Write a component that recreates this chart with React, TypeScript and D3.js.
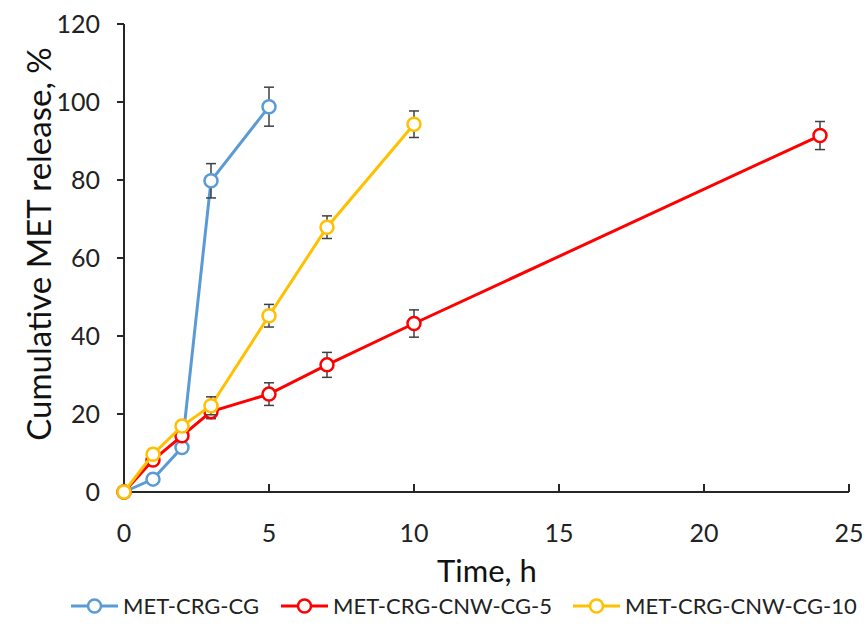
import React from "react";
import * as d3 from "d3";

// Release profiles: time (h), cumulative release (%), standard deviation (%)
const timesCG = [0, 1, 2, 3, 5];
const releaseCG = [0, 3.3, 11.4, 79.8, 98.8];
const errorCG = [0, 0.8, 1.0, 4.4, 5.0];

const timesCNW5 = [0, 1, 2, 3, 5, 7, 10, 24];
const releaseCNW5 = [0, 8.2, 14.4, 20.6, 25.1, 32.6, 43.2, 91.4];
const errorCNW5 = [0, 1.0, 1.2, 1.8, 2.9, 3.2, 3.5, 3.6];

const timesCNW10 = [0, 1, 2, 3, 5, 7, 10];
const releaseCNW10 = [0, 9.7, 16.9, 22.1, 45.2, 67.9, 94.3];
const errorCNW10 = [0, 1.3, 1.3, 2.3, 2.9, 2.9, 3.4];

const seriesNames = ["MET-CRG-CG", "MET-CRG-CNW-CG-5", "MET-CRG-CNW-CG-10"];
const seriesColors = ["#5B9BD5", "#FF0000", "#FFC000"];

const xTicks = [0, 5, 10, 15, 20, 25];
const yTicks = [0, 20, 40, 60, 80, 100, 120];

const W = 866;
const H = 633;
const FONT = "Lato, 'Open Sans', sans-serif";

export default function App() {
  const x = d3.scaleLinear().domain([0, 25]).range([124, 849]);
  const y = d3.scaleLinear().domain([0, 120]).range([492, 24]);

  const series = [
    { t: timesCG, v: releaseCG, e: errorCG },
    { t: timesCNW5, v: releaseCNW5, e: errorCNW5 },
    { t: timesCNW10, v: releaseCNW10, e: errorCNW10 },
  ].map((s, i) => ({
    name: seriesNames[i],
    color: seriesColors[i],
    pts: s.t.map((t, j) => ({ t, v: s.v[j], e: s.e[j] })),
  }));

  const line = d3
    .line<{ t: number; v: number }>()
    .x((d) => x(d.t))
    .y((d) => y(d.v));

  const axisColor = "#262626";
  const errColor = "#404040";

  const legendItems = [
    { lineX: 71, textX: 123 },
    { lineX: 281, textX: 333 },
    { lineX: 573, textX: 625 },
  ];

  return (
    <svg width={W} height={H} style={{ display: "block", position: "absolute", left: 0, top: 0 }}>
      <rect width={W} height={H} fill="#fff" />

      {/* axes */}
      <line x1={x(0)} x2={x(0)} y1={y(120)} y2={y(0)} stroke={axisColor} strokeWidth={2} />
      <line x1={x(0) - 6} x2={x(25)} y1={y(0)} y2={y(0)} stroke={axisColor} strokeWidth={2} />
      {yTicks.map((t) => (
        <g key={"y" + t}>
          <line x1={x(0) - 7} x2={x(0)} y1={y(t)} y2={y(t)} stroke={axisColor} strokeWidth={2} />
          <text
            x={100}
            y={y(t)}
            dy="0.36em"
            textAnchor="end"
            fontFamily={FONT}
            fontSize={25}
            fill="#222"
          >
            {t}
          </text>
        </g>
      ))}
      {xTicks.map((t) => (
        <g key={"x" + t}>
          {t > 0 && (
            <line x1={x(t)} x2={x(t)} y1={y(0)} y2={y(0) - 8} stroke={axisColor} strokeWidth={2} />
          )}
          <text
            x={x(t)}
            y={542}
            textAnchor="middle"
            fontFamily={FONT}
            fontSize={25}
            fill="#222"
          >
            {t}
          </text>
        </g>
      ))}

      {/* axis titles */}
      <text x={487} y={582} textAnchor="middle" fontFamily={FONT} fontSize={31} fill="#111">
        Time, h
      </text>
      <text
        transform={`translate(51, ${244}) rotate(-90)`}
        textAnchor="middle"
        fontFamily={FONT}
        fontSize={33}
        fill="#111"
      >
        Cumulative MET release, %
      </text>

      {/* series */}
      {series.map((s) => (
        <g key={s.name}>
          <path d={line(s.pts) ?? ""} fill="none" stroke={s.color} strokeWidth={3} />
          {s.pts
            .filter((p) => p.e > 0)
            .map((p, j) => (
              <g key={j} stroke={errColor} strokeWidth={1.5}>
                <line x1={x(p.t)} x2={x(p.t)} y1={y(p.v + p.e)} y2={y(p.v - p.e)} />
                <line x1={x(p.t) - 5} x2={x(p.t) + 5} y1={y(p.v + p.e)} y2={y(p.v + p.e)} />
                <line x1={x(p.t) - 5} x2={x(p.t) + 5} y1={y(p.v - p.e)} y2={y(p.v - p.e)} />
              </g>
            ))}
          {s.pts.map((p, j) => (
            <circle
              key={j}
              cx={x(p.t)}
              cy={y(p.v)}
              r={6.5}
              fill="#fff"
              stroke={s.color}
              strokeWidth={2.5}
            />
          ))}
        </g>
      ))}

      {/* legend */}
      {series.map((s, i) => (
        <g key={"leg" + i}>
          <line
            x1={legendItems[i].lineX}
            x2={legendItems[i].lineX + 47}
            y1={606}
            y2={606}
            stroke={s.color}
            strokeWidth={3}
          />
          <circle
            cx={legendItems[i].lineX + 23.5}
            cy={606}
            r={6.5}
            fill="#fff"
            stroke={s.color}
            strokeWidth={2.5}
          />
          <text
            x={legendItems[i].textX}
            y={606}
            dy="0.36em"
            fontFamily={FONT}
            fontSize={22}
            fill="#222"
          >
            {s.name}
          </text>
        </g>
      ))}
    </svg>
  );
}
